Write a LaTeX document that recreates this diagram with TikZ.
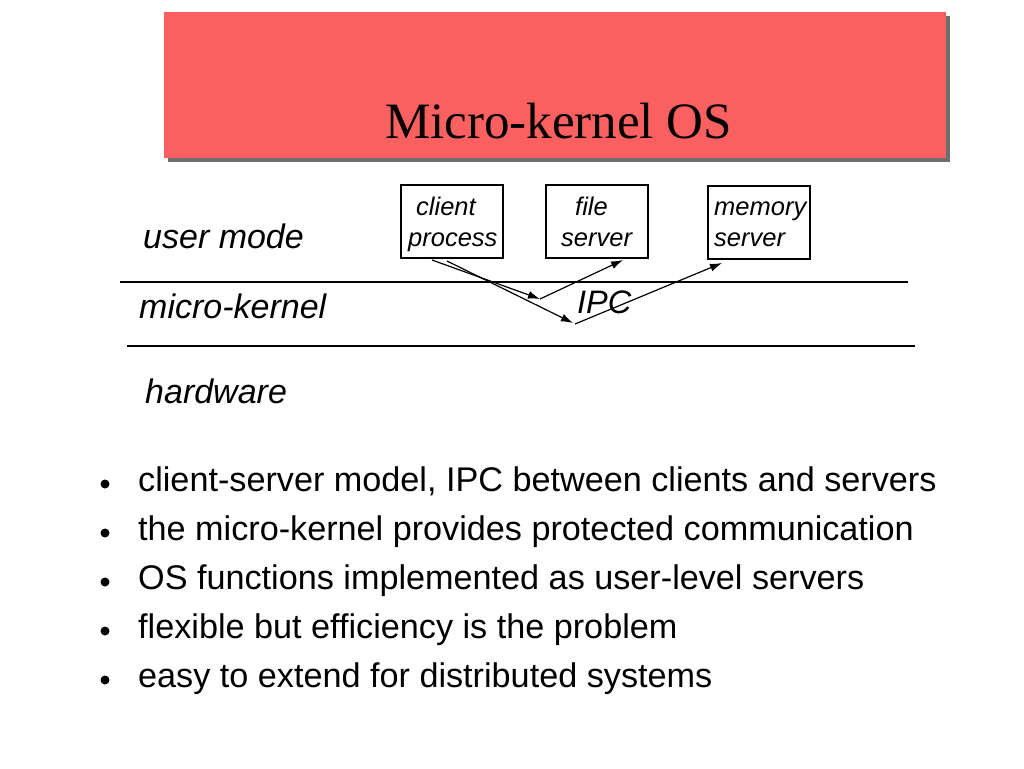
\documentclass[tikz,border=0pt]{standalone}
\usepackage{fontspec}
\setmainfont{Liberation Sans}
\newfontfamily\titlefont{Liberation Serif}
\usetikzlibrary{arrows.meta}
\definecolor{titlered}{RGB}{250,96,96}
\definecolor{shadowgray}{RGB}{110,110,110}
\tikzset{
  lbl/.style={anchor=base west, inner sep=0pt, font=\fontsize{34}{40}\selectfont\itshape},
  boxtxt/.style={anchor=base west, inner sep=0pt, font=\fontsize{25.5}{30}\selectfont\itshape},
  procbox/.style={draw=black, line width=1.2pt},
  sep/.style={draw=black, line width=1.3pt},
  msg/.style={draw=black, line width=1.2pt, -{Latex[length=12pt,width=8pt]}},
  bullettxt/.style={anchor=base west, inner sep=0pt, font=\fontsize{34.2}{40}\selectfont},
  dot/.style={circle, fill=black, inner sep=0pt, minimum size=9pt}
}
\begin{document}
\begin{tikzpicture}[x=1pt,y=-1pt]
\useasboundingbox[fill=white] (0,0) rectangle (1024,768);
% title
\fill[shadowgray] (168,16) rectangle (950,162);
\fill[titlered] (164,12) rectangle (946,158);
\node[anchor=base, inner sep=0pt, font=\fontsize{51}{60}\selectfont\titlefont] (title) at (558.5,138) {Micro-kernel OS};
% layer lines
\coordinate (l1a) at (120,282); \coordinate (l1b) at (908,282);
\coordinate (l2a) at (127,346); \coordinate (l2b) at (915,346);
\draw[sep] (l1a) -- (l1b);
\draw[sep] (l2a) -- (l2b);
% layer labels
\node[lbl] (um) at (143,248) {user mode};
\node[lbl] (mk) at (139,318) {micro-kernel};
\node[lbl] (hw) at (145,403) {hardware};
% boxes
\draw[procbox] (401,185) rectangle (503,258);
\draw[procbox] (546,185) rectangle (648,258);
\draw[procbox] (708,186) rectangle (810,259);
\node[boxtxt] (c1) at (416,215) {client};
\node[boxtxt] (c2) at (408,246) {process};
\node[boxtxt] (f1) at (575,215) {file};
\node[boxtxt] (f2) at (561,246) {server};
\node[boxtxt] (m1) at (714,215) {memory};
\node[boxtxt] (m2) at (714,246) {server};
\node[anchor=base west, inner sep=0pt, font=\fontsize{32.5}{38}\selectfont\itshape] (ipc) at (577,313) {IPC};
% message arrows
\coordinate (a0) at (432,260); \coordinate (a1) at (540,299); \coordinate (a2) at (623,260);
\coordinate (b0) at (447,261); \coordinate (b1) at (573,323); \coordinate (b1s) at (575,324); \coordinate (b2) at (722,263);
\draw[msg] (a0) -- (a1);
\draw[msg] (a1) -- (a2);
\draw[msg] (b0) -- (b1);
\draw[msg] (b1s) -- (b2);
% bullets
\node[dot] (d1) at (105,484) {};
\node[dot] (d2) at (105,533) {};
\node[dot] (d3) at (105,582) {};
\node[dot] (d4) at (105,631) {};
\node[dot] (d5) at (105,680) {};
\node[bullettxt] (t1) at (138,491) {client-server model, IPC between clients and servers};
\node[bullettxt] (t2) at (138,540) {the micro-kernel provides protected communication};
\node[bullettxt] (t3) at (138,589) {OS functions implemented as user-level servers};
\node[bullettxt] (t4) at (138,638) {flexible but efficiency is the problem};
\node[bullettxt] (t5) at (138,687) {easy to extend for distributed systems};
\end{tikzpicture}
\end{document}
